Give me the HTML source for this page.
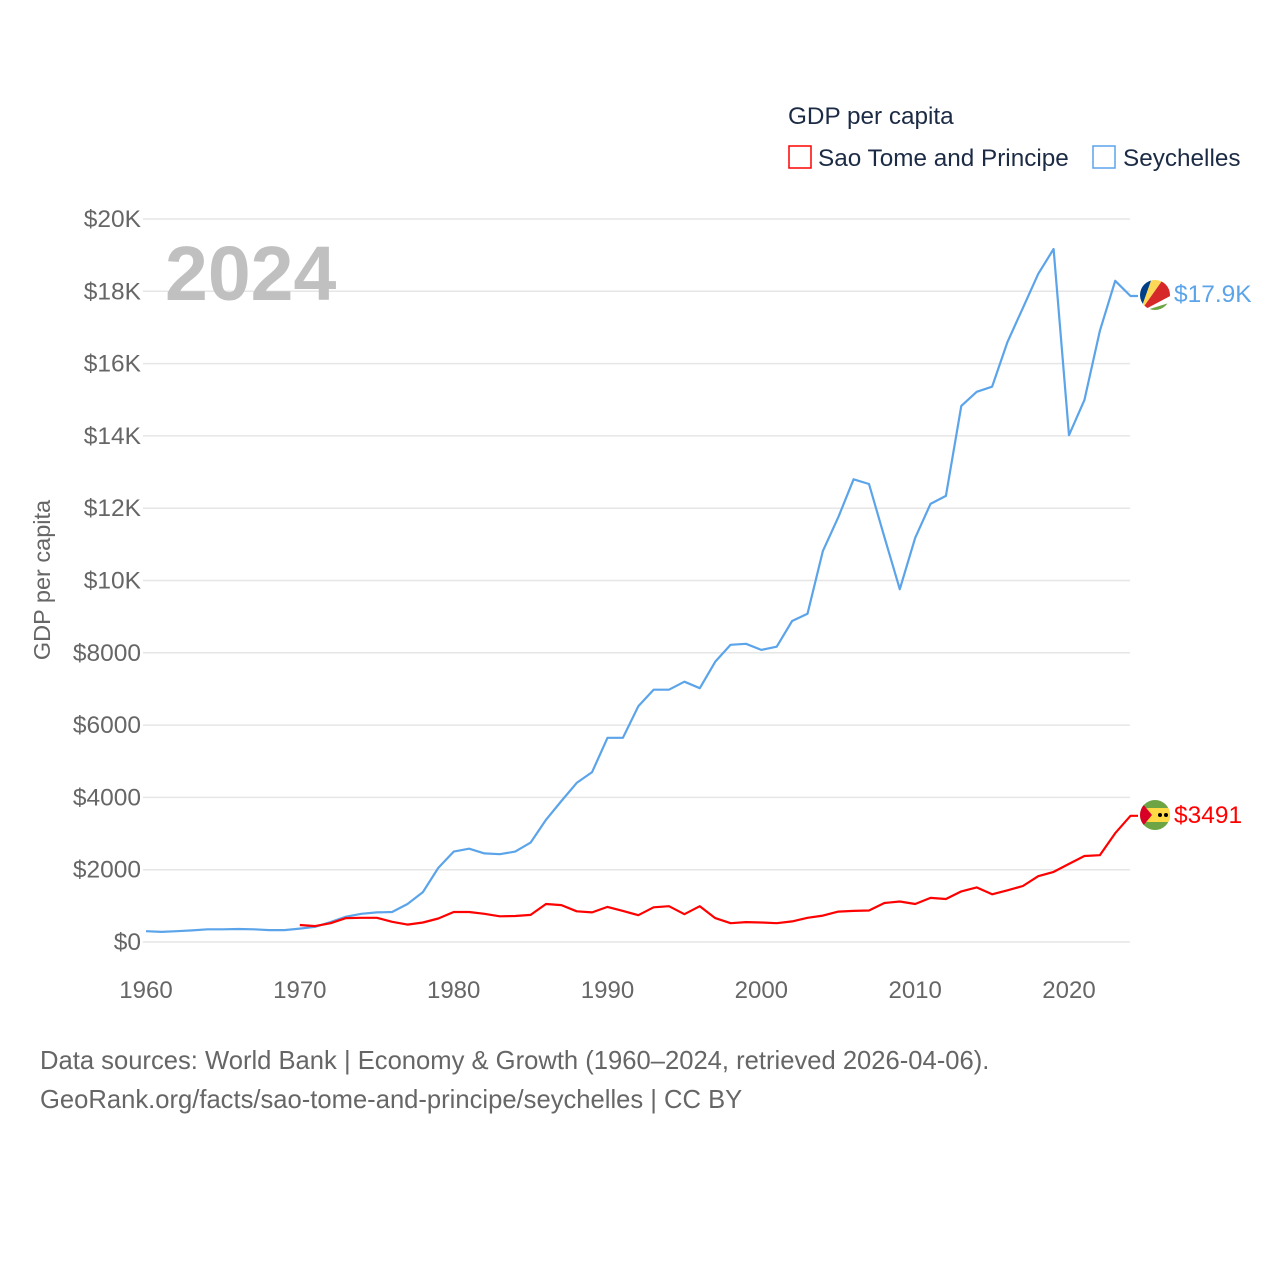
<!DOCTYPE html>
<html><head><meta charset="utf-8"><style>
body{margin:0;background:#fff;font-family:"Liberation Sans",sans-serif;}
svg text{font-family:"Liberation Sans",sans-serif;}
</style></head><body>
<svg id="chart" width="1280" height="1280" xmlns="http://www.w3.org/2000/svg">
<defs>
<clipPath id="c1"><circle cx="1155" cy="295" r="15"/></clipPath>
<clipPath id="c2"><circle cx="1155" cy="815" r="15"/></clipPath>
</defs>
<g id="grid"></g>
<g id="yticks"></g>
<g id="xticks"></g>
<text x="165" y="300" font-size="77" font-weight="bold" fill="#c0c0c0">2024</text>
<text transform="translate(50,580) rotate(-90)" text-anchor="middle" font-size="23.5" fill="#666">GDP per capita</text>
<g id="series"></g>
<text x="788" y="124" font-size="24.3" fill="#1c2b45">GDP per capita</text>
<rect x="789" y="146" width="22" height="22" fill="none" stroke="#ff0000" stroke-width="1.5"/>
<text x="818" y="166" font-size="24.3" fill="#1c2b45">Sao Tome and Principe</text>
<rect x="1093" y="146" width="22" height="22" fill="none" stroke="#5ba4ea" stroke-width="1.5"/>
<text x="1123" y="166" font-size="24.3" fill="#1c2b45">Seychelles</text>
<g clip-path="url(#c1)">
<rect x="1138" y="278" width="34" height="34" fill="#fff"/>
<polygon points="1140,312 1140,278 1152,278" fill="#003f87"/>
<polygon points="1140,312 1152,278 1164,278" fill="#fcd856"/>
<polygon points="1140,312 1164,278 1172,278 1172,295" fill="#d62828"/>
<polygon points="1140,312 1172,302 1172,312" fill="#6da544"/>
</g>
<text x="1174" y="302" font-size="24.5" fill="#5ba4ea">$17.9K</text>
<g clip-path="url(#c2)">
<rect x="1138" y="798" width="34" height="34" fill="#6da544"/>
<rect x="1138" y="808" width="34" height="14" fill="#ffda44"/>
<polygon points="1138,798 1152,815 1138,832" fill="#d80027"/>
<circle cx="1160" cy="815" r="2" fill="#000"/><circle cx="1166" cy="815" r="2" fill="#000"/>
</g>
<text x="1174" y="823" font-size="24.5" fill="#ff0000">$3491</text>
<text x="40" y="1069" font-size="25.6" fill="#666">Data sources: World Bank | Economy &amp; Growth (1960–2024, retrieved 2026-04-06).</text>
<text x="40" y="1108" font-size="25.6" fill="#666">GeoRank.org/facts/sao-tome-and-principe/seychelles | CC BY</text>
</svg>
<script>
const seyYears=[1960,1961,1962,1963,1964,1965,1966,1967,1968,1969,1970,1971,1972,1973,1974,1975,1976,1977,1978,1979,1980,1981,1982,1983,1984,1985,1986,1987,1988,1989,1990,1991,1992,1993,1994,1995,1996,1997,1998,1999,2000,2001,2002,2003,2004,2005,2006,2007,2008,2009,2010,2011,2012,2013,2014,2015,2016,2017,2018,2019,2020,2021,2022,2023,2024];
const seyValues=[300,280,300,320,350,350,360,350,330,330,370,420,550,700,780,820,830,1050,1380,2050,2500,2580,2450,2430,2500,2750,3380,3900,4400,4700,5650,5650,6520,6980,6980,7200,7020,7750,8220,8250,8080,8170,8880,9080,10820,11750,12800,12670,11200,9760,11180,12120,12340,14830,15220,15360,16600,17540,18480,19170,14020,14990,16900,18290,17870];
const stpYears=[1970,1971,1972,1973,1974,1975,1976,1977,1978,1979,1980,1981,1982,1983,1984,1985,1986,1987,1988,1989,1990,1991,1992,1993,1994,1995,1996,1997,1998,1999,2000,2001,2002,2003,2004,2005,2006,2007,2008,2009,2010,2011,2012,2013,2014,2015,2016,2017,2018,2019,2020,2021,2022,2023,2024];
const stpValues=[470,440,520,660,670,670,560,480,540,650,830,830,780,710,720,750,1050,1020,850,820,970,860,740,960,990,770,990,660,520,550,540,520,570,670,730,840,860,870,1080,1120,1050,1220,1190,1400,1510,1320,1430,1550,1820,1940,2160,2380,2400,3010,3491];
const yTickValues=[0,2000,4000,6000,8000,10000,12000,14000,16000,18000,20000];
const yTickLabels=["$0","$2000","$4000","$6000","$8000","$10K","$12K","$14K","$16K","$18K","$20K"];
const xTickValues=[1960,1970,1980,1990,2000,2010,2020];
const NS="http://www.w3.org/2000/svg";
const xS=y=>146+(y-1960)*(1069-146)/60;
const yS=v=>942-v*(942-219)/20000;
function mk(tag,attrs,parent){const e=document.createElementNS(NS,tag);for(const k in attrs)e.setAttribute(k,attrs[k]);parent.appendChild(e);return e;}
const grid=document.getElementById('grid'),yt=document.getElementById('yticks'),xt=document.getElementById('xticks'),ser=document.getElementById('series');
yTickValues.forEach((v,i)=>{
  const l=mk('line',{x1:143,x2:1130,y1:yS(v),y2:yS(v),stroke:'#e6e6e6','stroke-width':1.5},grid);
  
  
  const t=mk('text',{x:141,y:yS(v)+8,'text-anchor':'end','font-size':24.5,fill:'#666'},yt);
  t.textContent=yTickLabels[i];
  
  
});
xTickValues.forEach(y=>{
  const t=mk('text',{x:xS(y),y:998,'text-anchor':'middle','font-size':24,fill:'#666'},xt);
  t.textContent=y;
  
  
});
function line(years,vals,color,name){
  const d=years.map((y,i)=>(i?'L':'M')+xS(y).toFixed(1)+','+yS(vals[i]).toFixed(1)).join(' ')+' L1138,'+yS(vals[vals.length-1]).toFixed(1);
  const p=mk('path',{d:d,fill:'none',stroke:color,'stroke-width':2.2,'stroke-linejoin':'round'},ser);
  
  
}
line(seyYears,seyValues,'#5ba4ea','seychelles-line');
line(stpYears,stpValues,'#ff0000','sao-tome-line');
</script>
</body></html>
